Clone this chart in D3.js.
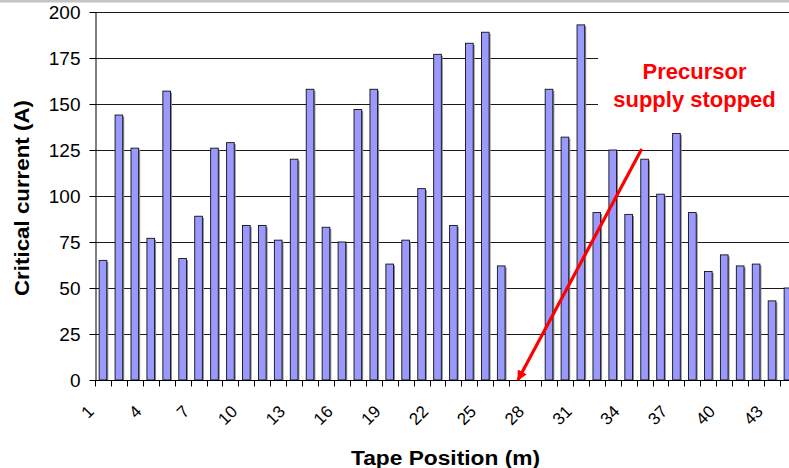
<!DOCTYPE html>
<html>
<head>
<meta charset="utf-8">
<script src="https://cdn.jsdelivr.net/npm/d3@7"></script>
<style>
  html, body { margin: 0; padding: 0; background: #fff; }
  svg { display: block; font-family: Arial, "Liberation Sans", sans-serif; }
</style>
</head>
<body>
<svg id="chart" width="789" height="468"></svg>
<script>
// Tape positions (m) and measured critical current (A)
const positions = d3.range(1, 45);
const currents = [
  65, 144, 126, 77, 157, 66, 89, 126, 129, 84,
  84, 76, 120, 158, 83, 75, 147, 158, 63, 76,
  104, 177, 84, 183, 189, 62, 0, 0, 158, 132,
  193, 91, 125, 90, 120, 101, 134, 91, 59, 68,
  62, 63, 43, 50
];
const yTicks = [0, 25, 50, 75, 100, 125, 150, 175, 200];
const xTickLabels = positions.filter((p, i) => i % 3 === 0);
const noteLines = ["Precursor", "supply stopped"];
const arrowFromPos = 34.82, arrowFromValue = 125.5; // tail of the annotation arrow
const arrowToPos = 27.05, arrowToValue = 0;         // head rests on the axis

const svg = d3.select("#chart");
const W = 789, H = 468;
const x0 = 95, step = 15.93;
const plotTop = 12, plotBottom = 380;

const x = d3.scaleBand()
  .domain(positions)
  .range([x0, x0 + step * positions.length])
  .paddingInner(0.52)
  .paddingOuter(0.26);

const y = d3.scaleLinear().domain([0, 200]).range([plotBottom, plotTop]);

// continuous position scale for the annotation arrow (category centres)
const xc = d3.scaleLinear()
  .domain([1, positions.length])
  .range([x(1) + x.bandwidth() / 2, x(positions.length) + x.bandwidth() / 2]);

// thin grey strip along the top edge
svg.append("rect").attr("x", 0).attr("y", 0).attr("width", W).attr("height", 2.5)
  .attr("fill", "#c4c4c4");

// horizontal gridlines
svg.append("g")
  .selectAll("line")
  .data(yTicks.filter(d => d > 0))
  .join("line")
  .attr("x1", x0).attr("x2", W)
  .attr("y1", d => Math.round(y(d)) + 0.5)
  .attr("y2", d => Math.round(y(d)) + 0.5)
  .attr("stroke", "#1a1a1a").attr("stroke-width", 1);

// bars with a soft grey drop shadow
const bars = svg.append("g");
const data = positions.map((p, i) => ({ p, v: currents[i] })).filter(d => d.v > 0);
bars.selectAll("rect.shadow")
  .data(data)
  .join("rect")
  .attr("class", "shadow")
  .attr("x", d => x(d.p) + 1.5)
  .attr("y", d => y(d.v) + 1.5)
  .attr("width", x.bandwidth())
  .attr("height", d => plotBottom - y(d.v) - 1.5)
  .attr("fill", "#8a8a8a");
bars.selectAll("rect.bar")
  .data(data)
  .join("rect")
  .attr("class", "bar")
  .attr("x", d => x(d.p))
  .attr("y", d => y(d.v))
  .attr("width", x.bandwidth())
  .attr("height", d => plotBottom - y(d.v))
  .attr("fill", "#9999ff")
  .attr("stroke", "#111")
  .attr("stroke-width", 0.9);

// annotation backdrop (covers gridlines behind the note)
svg.append("rect")
  .attr("x", 598).attr("y", 40).attr("width", W - 598).attr("height", 86)
  .attr("fill", "#fff");

// y axis
const yAxis = svg.append("g")
  .attr("transform", `translate(${x0 + 0.5},0)`)
  .call(d3.axisLeft(y).tickValues(yTicks).tickSize(6).tickPadding(9).tickSizeOuter(0));
yAxis.select(".domain").attr("stroke", "#000");
yAxis.selectAll(".tick line").attr("stroke", "#000");
yAxis.selectAll(".tick text")
  .attr("font-size", 19).attr("fill", "#000")
  .attr("font-family", "Arial, 'Liberation Sans', sans-serif");

// x axis: ticks on category boundaries
const xg = svg.append("g").attr("transform", `translate(0,${plotBottom + 0.5})`);
xg.append("line").attr("x1", x0).attr("x2", W).attr("y1", 0).attr("y2", 0)
  .attr("stroke", "#000");
xg.selectAll("line.tk")
  .data(d3.range(positions.length + 1))
  .join("line")
  .attr("class", "tk")
  .attr("x1", i => Math.round(x0 + i * step) + 0.5)
  .attr("x2", i => Math.round(x0 + i * step) + 0.5)
  .attr("y1", 0).attr("y2", 6)
  .attr("stroke", "#000");
xg.selectAll("text")
  .data(xTickLabels)
  .join("text")
  .attr("transform", p => `translate(${x(p) + x.bandwidth() / 2 - 8},${32}) rotate(-45)`)
  .attr("text-anchor", "end")
  .attr("font-size", 17)
  .attr("fill", "#000")
  .text(p => p);

// axis titles
svg.append("text")
  .attr("x", 445.5).attr("y", 465)
  .attr("text-anchor", "middle")
  .attr("font-size", 20).attr("font-weight", "bold")
  .attr("textLength", 189).attr("lengthAdjust", "spacingAndGlyphs")
  .text("Tape Position (m)");
svg.append("text")
  .attr("transform", "translate(29,198) rotate(-90)")
  .attr("text-anchor", "middle")
  .attr("font-size", 20).attr("font-weight", "bold")
  .attr("textLength", 196).attr("lengthAdjust", "spacingAndGlyphs")
  .text("Critical current (A)");

// annotation text
svg.append("g").selectAll("text")
  .data(noteLines)
  .join("text")
  .attr("x", 694.5)
  .attr("y", (d, i) => 79 + i * 27.5)
  .attr("text-anchor", "middle")
  .attr("font-size", 22).attr("font-weight", "bold")
  .attr("fill", "#ff0000")
  .text(d => d);

// arrow
svg.append("defs").append("marker")
  .attr("id", "head")
  .attr("viewBox", "0 0 10 10")
  .attr("refX", 9).attr("refY", 5)
  .attr("markerWidth", 3.2).attr("markerHeight", 3.2)
  .attr("orient", "auto")
  .append("path").attr("d", "M0,0 L10,5 L0,10 Z").attr("fill", "#ff0000");
svg.append("line")
  .attr("x1", xc(arrowFromPos)).attr("y1", y(arrowFromValue))
  .attr("x2", xc(arrowToPos)).attr("y2", y(arrowToValue))
  .attr("stroke", "#ff0000").attr("stroke-width", 3.2)
  .attr("marker-end", "url(#head)");
</script>
</body>
</html>
